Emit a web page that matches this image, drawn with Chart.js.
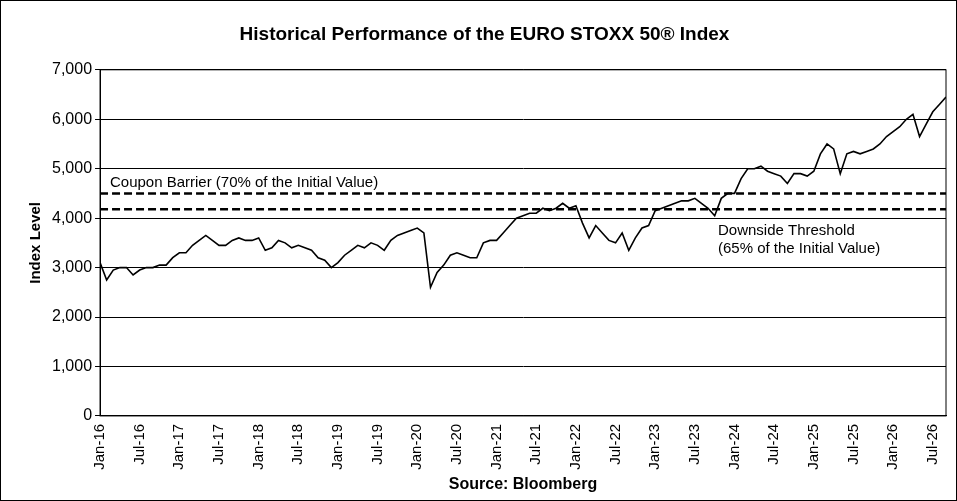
<!DOCTYPE html>
<html><head><meta charset="utf-8">
<script src="https://cdn.jsdelivr.net/npm/chart.js@4/dist/chart.umd.min.js"></script>
<style>
html,body{margin:0;padding:0;background:#fff;}
#wrap{width:955px;height:499px;border:1px solid #000;position:relative;}
</style></head><body>
<div id="wrap"><canvas id="c" width="955" height="499"></canvas></div>
<script>
// months since Jan-16 and index level
const months = [0,1,2,3,4,5,6,7,8,9,10,11,12,13,14,15,16,17,18,19,20,21,22,23,24,25,26,27,28,29,30,31,32,33,34,35,36,37,38,39,40,41,42,43,44,45,46,47,48,49,50,51,52,53,54,55,56,57,58,59,60,61,62,63,64,65,66,67,68,69,70,71,72,73,74,75,76,77,78,79,80,81,82,83,84,85,86,87,88,89,90,91,92,93,94,95,96,97,98,99,100,101,102,103,104,105,106,107,108,109,110,111,112,113,114,115,116,117,118,119,120,121,122,123,124,125,126,127,128];
const levels = [3100,2750,2950,3000,3000,2850,2950,3000,3000,3050,3050,3200,3300,3300,3450,3550,3650,3550,3450,3450,3550,3600,3550,3550,3600,3350,3400,3550,3500,3400,3450,3400,3350,3200,3150,3000,3100,3250,3350,3450,3400,3500,3450,3350,3550,3650,3700,3750,3800,3700,2600,2900,3050,3250,3300,3250,3200,3200,3500,3550,3550,3700,3850,4000,4050,4100,4100,4200,4150,4200,4300,4200,4250,3900,3600,3850,3700,3550,3500,3700,3350,3600,3800,3850,4150,4200,4250,4300,4350,4350,4400,4300,4200,4050,4400,4500,4500,4800,5000,5000,5050,4950,4900,4850,4700,4900,4900,4850,4950,5300,5500,5400,4900,5300,5350,5300,5350,5400,5500,5650,5750,5850,6000,6100,5650,5900,6150,6300,6450];
const couponBarrier = 4500;
const downsideThreshold = 4180;
const tickLabels = ['Jan-16','Jul-16','Jan-17','Jul-17','Jan-18','Jul-18','Jan-19','Jul-19','Jan-20','Jul-20','Jan-21','Jul-21','Jan-22','Jul-22','Jan-23','Jul-23','Jan-24','Jul-24','Jan-25','Jul-25','Jan-26','Jul-26'];

const FONT = 'Liberation Sans, Arial, sans-serif';
const series = months.map((m,i)=>({x:m,y:levels[i]}));
const xEnd = months[months.length-1];

const textPlugin = {
  id:'txt',
  afterDatasetsDraw(chart){
    const {ctx,scales:{x,y}} = chart;
    ctx.save();
    ctx.fillStyle='#000';
    ctx.font='15px '+FONT;
    ctx.textBaseline='bottom';
    ctx.fillText('Coupon Barrier (70% of the Initial Value)', x.getPixelForValue(1.5), y.getPixelForValue(couponBarrier)-3);
    ctx.textBaseline='top';
    ctx.fillText('Downside Threshold', x.getPixelForValue(93.5), y.getPixelForValue(downsideThreshold)+14);
    ctx.fillText('(65% of the Initial Value)', x.getPixelForValue(93.5), y.getPixelForValue(downsideThreshold)+32);
    ctx.restore();
  }
};

new Chart(document.getElementById('c'), {
  type:'line',
  data:{datasets:[
    {data:series,borderColor:'#000',borderWidth:1.6,pointRadius:0,tension:0},
    {data:[{x:0,y:couponBarrier},{x:xEnd,y:couponBarrier}],borderColor:'#000',borderWidth:2.5,borderDash:[8,4],pointRadius:0},
    {data:[{x:0,y:downsideThreshold},{x:xEnd,y:downsideThreshold}],borderColor:'#000',borderWidth:2.5,borderDash:[8,4],pointRadius:0}
  ]},
  options:{
    responsive:false, animation:false,
    layout:{padding:{left:22,right:10,top:4,bottom:2}},
    plugins:{legend:{display:false},tooltip:{enabled:false},
      title:{display:true,text:'Historical Performance of the EURO STOXX 50® Index',color:'#000',font:{family:FONT,size:19,weight:'bold'},padding:{top:18,bottom:24}}},
    scales:{
      x:{type:'linear',min:0,max:xEnd,
        afterBuildTicks(s){s.ticks=tickLabels.map((_,i)=>({value:i*6}));},
        ticks:{autoSkip:false,maxRotation:90,minRotation:90,color:'#000',font:{family:FONT,size:15},callback:(v)=>tickLabels[v/6]},
        grid:{display:false,drawTicks:true,tickLength:5,color:'#000'},border:{color:'#000',width:1},
        title:{display:true,text:'Source: Bloomberg',color:'#000',font:{family:FONT,size:16,weight:'bold'},padding:{top:2}}},
      y:{min:0,max:7000,
        ticks:{stepSize:1000,color:'#000',font:{family:FONT,size:16},callback:v=>v.toLocaleString('en-US')},
        grid:{color:'#000',tickLength:5},border:{color:'#000'},
        title:{display:true,text:'Index Level',color:'#000',font:{family:FONT,size:15,weight:'bold'}}}
    }
  },
  plugins:[textPlugin,{id:'frame',afterDraw(c){const a=c.chartArea,ctx=c.ctx;ctx.save();ctx.strokeStyle='#000';ctx.lineWidth=1;ctx.strokeRect(a.left,a.top,a.right-a.left,a.bottom-a.top);ctx.restore();}}]
});
</script>
</body></html>
